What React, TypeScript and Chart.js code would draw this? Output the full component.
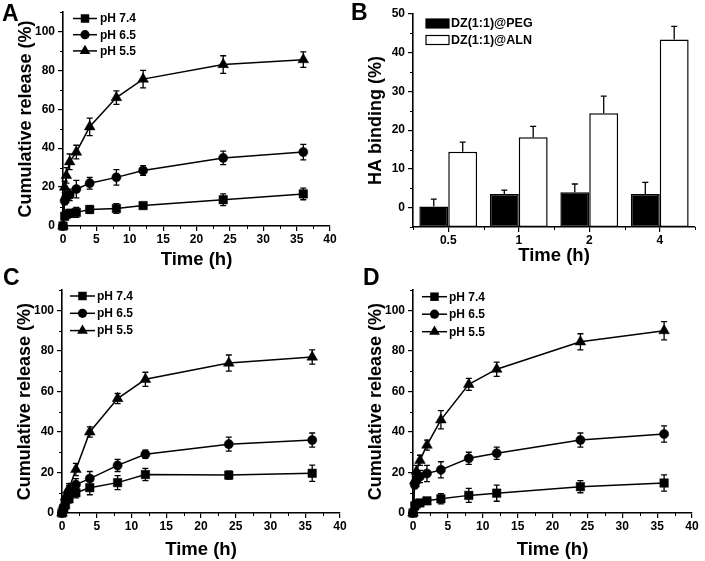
import React, { useEffect, useRef } from "react";
import { Chart, registerables } from "chart.js";
Chart.register(...registerables);

const FONT = '"Liberation Sans", Arial, Helvetica, sans-serif';
Chart.defaults.font.family = FONT;
Chart.defaults.color = "#000";

// ---------- data ----------
const times = [0, 0.25, 0.5, 1, 2, 4, 8, 12, 24, 36];
const phLabels = ["pH 7.4", "pH 6.5", "pH 5.5"];

const relA74 = [0, 5, 6, 6.5, 7, 8.5, 9, 10.5, 13.5, 16.5];
const errA74 = [0, 1.5, 2, 2, 2.5, 2, 2.5, 1.5, 3, 3];
const relA65 = [0, 13, 15, 16, 19, 22, 25, 28.5, 35, 38];
const errA65 = [0, 2, 3, 3, 4.5, 3, 4, 2.5, 3.5, 4];
const relA55 = [0, 20, 26, 33, 38, 51, 66, 75.5, 83, 85.5];
const errA55 = [0, 3, 4, 4, 3.5, 4.5, 3.5, 4.5, 4.5, 4];

const relC74 = [0, 2, 4, 7, 10, 12.5, 15, 19, 18.7, 19.6];
const errC74 = [0, 1, 2, 2, 2.5, 3.5, 3.5, 3, 2, 4];
const relC65 = [0, 3, 6, 10.5, 14, 17, 23.5, 29, 34, 36];
const errC65 = [0, 1.5, 2, 3, 3, 3.5, 3, 2, 3.5, 3.5];
const relC55 = [0, 4, 8, 12, 21.5, 40, 56.5, 66, 74, 77];
const errC55 = [0, 1.5, 2, 2.5, 3, 2.5, 2.5, 3.5, 4, 3.5];

const relD74 = [0, 3.5, 4.5, 5, 6, 7, 8.7, 9.8, 13, 14.8];
const errD74 = [0, 1, 1, 1, 1, 2.5, 3.5, 4, 3, 4];
const relD65 = [0, 14, 16, 18, 19.5, 21.3, 27, 29.5, 36, 39];
const errD65 = [0, 2, 3, 3, 4, 4, 3, 3, 3.5, 4];
const relD55 = [0, 16, 20.5, 26, 33.5, 46, 63.5, 71, 84.5, 90];
const errD55 = [0, 2, 3, 2.5, 2.5, 4.5, 3, 3.5, 4, 4.5];

const releaseXTicks = [0, 5, 10, 15, 20, 25, 30, 35, 40];
const releaseXMinor = [2.5, 7.5, 12.5, 17.5, 22.5, 27.5, 32.5, 37.5];
const releaseYTicks = [0, 20, 40, 60, 80, 100];
const releaseYMinor = [10, 30, 50, 70, 90, 110];

const bCategories = ["0.5", "1", "2", "4"];
const bSeriesLabels = ["DZ(1:1)@PEG", "DZ(1:1)@ALN"];
const bPEG = [0.3, 3.5, 4, 3.5];
const bPEGErr = [1.9, 1, 2.1, 3];
const bALN = [14.4, 18.2, 24.4, 43.4];
const bALNErr = [2.5, 2.8, 4.4, 3.4];
const bYTicks = [0, 10, 20, 30, 40, 50];
const bYMinor = [-5, 5, 15, 25, 35, 45];

// ---------- plugins ----------
function drawMarker(ctx: CanvasRenderingContext2D, style: string, x: number, y: number, r: number) {
  ctx.beginPath();
  if (style === "rect") {
    const s = r * Math.SQRT2;
    ctx.rect(x - s / 2, y - s / 2, s, s);
  } else if (style === "circle") {
    ctx.arc(x, y, r, 0, Math.PI * 2);
  } else {
    ctx.moveTo(x, y - r);
    ctx.lineTo(x + r * 0.866, y + r * 0.5);
    ctx.lineTo(x - r * 0.866, y + r * 0.5);
    ctx.closePath();
  }
  ctx.fill();
}

const errorBarPlugin = {
  id: "errorBars",
  afterDatasetsDraw(chart: any) {
    const ctx = chart.ctx;
    const yScale = chart.scales.y;
    chart.data.datasets.forEach((ds: any, di: number) => {
      if (!ds.errors) return;
      const meta = chart.getDatasetMeta(di);
      meta.data.forEach((el: any, i: number) => {
        const e = ds.errors[i];
        if (!e) return;
        const raw = ds.data[i];
        const v = typeof raw === "number" ? raw : raw.y;
        const x = el.x;
        const top = yScale.getPixelForValue(v + e);
        const bot = ds.errorUpOnly ? yScale.getPixelForValue(v) : yScale.getPixelForValue(v - e);
        const cap = 3;
        ctx.save();
        ctx.strokeStyle = "#000";
        ctx.lineWidth = 1.3;
        ctx.beginPath();
        ctx.moveTo(x, top);
        ctx.lineTo(x, bot);
        ctx.moveTo(x - cap, top);
        ctx.lineTo(x + cap, top);
        if (!ds.errorUpOnly) {
          ctx.moveTo(x - cap, bot);
          ctx.lineTo(x + cap, bot);
        }
        ctx.stroke();
        ctx.restore();
      });
    });
  },
};

const minorTickPlugin = {
  id: "minorTicks",
  afterDraw(chart: any, _a: any, o: any) {
    const { ctx, chartArea, scales } = chart;
    const len = 3;
    ctx.save();
    ctx.strokeStyle = "#000";
    ctx.lineWidth = 1;
    ctx.beginPath();
    (o.x || []).forEach((v: number) => {
      const px = Math.round(scales.x.getPixelForValue(v)) + 0.5;
      ctx.moveTo(px, chartArea.bottom);
      ctx.lineTo(px, chartArea.bottom + len);
    });
    if (o.categoryBounds) {
      const n = chart.data.labels.length;
      for (let i = 0; i <= n; i++) {
        const px = Math.round(scales.x.getPixelForValue(i - 0.5)) + 0.5;
        ctx.moveTo(px, chartArea.bottom);
        ctx.lineTo(px, chartArea.bottom + len);
      }
    }
    (o.y || []).forEach((v: number) => {
      const py = Math.round(scales.y.getPixelForValue(v)) + 0.5;
      ctx.moveTo(chartArea.left, py);
      ctx.lineTo(chartArea.left - len, py);
    });
    ctx.stroke();
    ctx.restore();
  },
};

const legendPlugin = {
  id: "originLegend",
  afterDraw(chart: any, _a: any, o: any) {
    if (!o || o.x0 === undefined) return;
    const ctx = chart.ctx;
    chart.data.datasets.forEach((ds: any, i: number) => {
      const y = o.y0 + i * o.dy;
      ctx.save();
      if (o.box) {
        ctx.fillStyle = ds.backgroundColor;
        ctx.fillRect(o.x0, y - o.boxH / 2, o.x1 - o.x0, o.boxH);
        ctx.strokeStyle = "#000";
        ctx.lineWidth = 1.2;
        ctx.strokeRect(o.x0, y - o.boxH / 2, o.x1 - o.x0, o.boxH);
      } else {
        ctx.strokeStyle = "#000";
        ctx.lineWidth = 1.5;
        ctx.beginPath();
        ctx.moveTo(o.x0, y);
        ctx.lineTo(o.x1, y);
        ctx.stroke();
        ctx.fillStyle = "#000";
        drawMarker(ctx, ds.pointStyle, (o.x0 + o.x1) / 2, y, ds.pointRadius);
      }
      ctx.fillStyle = "#000";
      ctx.font = `bold ${o.fontSize}px ${FONT}`;
      ctx.textBaseline = "middle";
      ctx.textAlign = "left";
      ctx.fillText(ds.label, o.textX, y + 0.5);
      ctx.restore();
    });
  },
};

// ---------- config builders ----------
const markerStyles = ["rect", "circle", "triangle"];
const markerRadii = [6, 4.6, 6.2];

function axisCommon(tickList: number[] | null, fixed: { w?: number; h?: number }) {
  return {
    afterBuildTicks: tickList
      ? (s: any) => {
          s.ticks = tickList.map((v) => ({ value: v }));
        }
      : undefined,
    afterFit: (s: any) => {
      if (fixed.w !== undefined) s.width = fixed.w;
      if (fixed.h !== undefined) s.height = fixed.h;
    },
    grid: {
      display: true,
      drawOnChartArea: false,
      drawTicks: true,
      tickLength: 5,
      color: "#000",
      lineWidth: 1.2,
      offset: false,
    },
    border: { display: true, color: "#000", width: 1.6 },
  };
}

function releaseConfig(p: any) {
  const series = p.series as number[][];
  const errs = p.errs as number[][];
  return {
    type: "line",
    data: {
      datasets: phLabels.map((label, k) => ({
        label,
        data: times.map((t, i) => ({ x: t, y: series[k][i] })),
        errors: errs[k],
        borderColor: "#000",
        backgroundColor: "#000",
        borderWidth: 1.5,
        pointStyle: markerStyles[k],
        pointRadius: markerRadii[k],
        pointBackgroundColor: "#000",
        pointBorderColor: "#000",
        pointBorderWidth: 0.5,
        tension: 0,
        fill: false,
        clip: false,
      })),
    },
    options: {
      animation: false,
      responsive: false,
      events: [],
      layout: { padding: p.pad },
      plugins: {
        legend: { display: false },
        tooltip: { enabled: false },
        minorTicks: { x: releaseXMinor, y: releaseYMinor },
        originLegend: p.legend,
      },
      scales: {
        x: {
          type: "linear",
          min: 0,
          max: 40,
          ...axisCommon(releaseXTicks, { h: p.xH }),
          ticks: {
            color: "#000",
            font: { family: FONT, size: 12, weight: "bold" },
            padding: 1,
            maxRotation: 0,
            autoSkip: false,
          },
          title: {
            display: true,
            text: "Time (h)",
            color: "#000",
            font: { family: FONT, size: 18.5, weight: "bold" },
            padding: { top: 0, bottom: p.xTitlePad },
          },
        },
        y: {
          type: "linear",
          min: 0,
          max: 110,
          ...axisCommon(releaseYTicks, { w: p.yW }),
          ticks: {
            color: "#000",
            font: { family: FONT, size: 12, weight: "bold" },
            padding: 3,
            autoSkip: false,
          },
          title: {
            display: true,
            text: "Cumulative release (%)",
            color: "#000",
            font: { family: FONT, size: 18, weight: "bold" },
            padding: { top: p.yTitlePad, bottom: 0 },
          },
        },
      },
    },
    plugins: [errorBarPlugin, minorTickPlugin, legendPlugin],
  };
}

function bindingConfig() {
  const yMin = -5;
  return {
    type: "bar",
    data: {
      labels: bCategories,
      datasets: [
        {
          label: bSeriesLabels[0],
          data: bPEG,
          errors: bPEGErr,
          errorUpOnly: true,
          backgroundColor: "#000",
          borderColor: "#000",
          borderWidth: 1.5,
          borderSkipped: false,
          base: yMin,
          categoryPercentage: 0.82,
          barPercentage: 1,
        },
        {
          label: bSeriesLabels[1],
          data: bALN,
          errors: bALNErr,
          errorUpOnly: true,
          backgroundColor: "#fff",
          borderColor: "#000",
          borderWidth: 1.5,
          borderSkipped: false,
          base: yMin,
          categoryPercentage: 0.82,
          barPercentage: 1,
        },
      ],
    },
    options: {
      animation: false,
      responsive: false,
      events: [],
      layout: { padding: { top: 14, right: 10, left: 0, bottom: 0 } },
      plugins: {
        legend: { display: false },
        tooltip: { enabled: false },
        minorTicks: { y: bYMinor, categoryBounds: true },
        originLegend: { box: true, x0: 76, x1: 99, boxH: 9, y0: 23.5, dy: 16.5, textX: 101, fontSize: 12.5 },
      },
      scales: {
        x: {
          type: "category",
          ...axisCommon(null, { h: 53 }),
          ticks: {
            color: "#000",
            font: { family: FONT, size: 12, weight: "bold" },
            padding: 1,
            maxRotation: 0,
            autoSkip: false,
          },
          title: {
            display: true,
            text: "Time (h)",
            color: "#000",
            font: { family: FONT, size: 18.5, weight: "bold" },
            padding: { top: 0, bottom: 13 },
          },
        },
        y: {
          type: "linear",
          min: yMin,
          max: 50,
          ...axisCommon(bYTicks, { w: 63 }),
          ticks: {
            color: "#000",
            font: { family: FONT, size: 12, weight: "bold" },
            padding: 3,
            autoSkip: false,
          },
          title: {
            display: true,
            text: "HA binding (%)",
            color: "#000",
            font: { family: FONT, size: 18, weight: "bold" },
            padding: { top: 15.5, bottom: 0 },
          },
        },
      },
    },
    plugins: [errorBarPlugin, minorTickPlugin, legendPlugin],
  };
}

// ---------- components ----------
function Panel({ make, left, top, w, h }: any) {
  const ref = useRef<HTMLCanvasElement>(null);
  useEffect(() => {
    const chart = new Chart(ref.current as HTMLCanvasElement, make() as any);
    return () => chart.destroy();
  }, []);
  return (
    <canvas
      ref={ref}
      width={w}
      height={h}
      style={{ position: "absolute", left, top, width: w, height: h }}
    />
  );
}

const letterStyle: React.CSSProperties = {
  position: "absolute",
  fontFamily: FONT,
  fontWeight: "bold",
  fontSize: 23,
  lineHeight: "23px",
  color: "#000",
};

export default function App() {
  return (
    <div style={{ position: "absolute", left: 0, top: 0, width: 705, height: 561, background: "#fff", overflow: "hidden" }}>
      <Panel
        left={0}
        top={0}
        w={350}
        h={280}
        make={() =>
          releaseConfig({
            series: [relA74, relA65, relA55],
            errs: [errA74, errA65, errA55],
            pad: { top: 12, right: 20, left: 0, bottom: 0 },
            xH: 54,
            yW: 63,
            xTitlePad: 9,
            yTitlePad: 15.5,
            legend: { x0: 73, x1: 97, y0: 18.5, dy: 16.2, textX: 100, fontSize: 12 },
          })
        }
      />
      <Panel left={350} top={0} w={355} h={280} make={bindingConfig} />
      <Panel
        left={0}
        top={280}
        w={350}
        h={281}
        make={() =>
          releaseConfig({
            series: [relC74, relC65, relC55],
            errs: [errC74, errC65, errC55],
            pad: { top: 9, right: 10, left: 0, bottom: 0 },
            xH: 48,
            yW: 62,
            xTitlePad: 0,
            yTitlePad: 14,
            legend: { x0: 70, x1: 95, y0: 16, dy: 17.3, textX: 97, fontSize: 12 },
          })
        }
      />
      <Panel
        left={350}
        top={280}
        w={355}
        h={281}
        make={() =>
          releaseConfig({
            series: [relD74, relD65, relD55],
            errs: [errD74, errD65, errD55],
            pad: { top: 10, right: 13, left: 0, bottom: 0 },
            xH: 48,
            yW: 63,
            xTitlePad: 0,
            yTitlePad: 15,
            legend: { x0: 72, x1: 97, y0: 16.7, dy: 17.5, textX: 99, fontSize: 12 },
          })
        }
      />
      <div style={{ ...letterStyle, left: 2, top: 2 }}>A</div>
      <div style={{ ...letterStyle, left: 351, top: 1 }}>B</div>
      <div style={{ ...letterStyle, left: 3, top: 266 }}>C</div>
      <div style={{ ...letterStyle, left: 363, top: 266 }}>D</div>
    </div>
  );
}
